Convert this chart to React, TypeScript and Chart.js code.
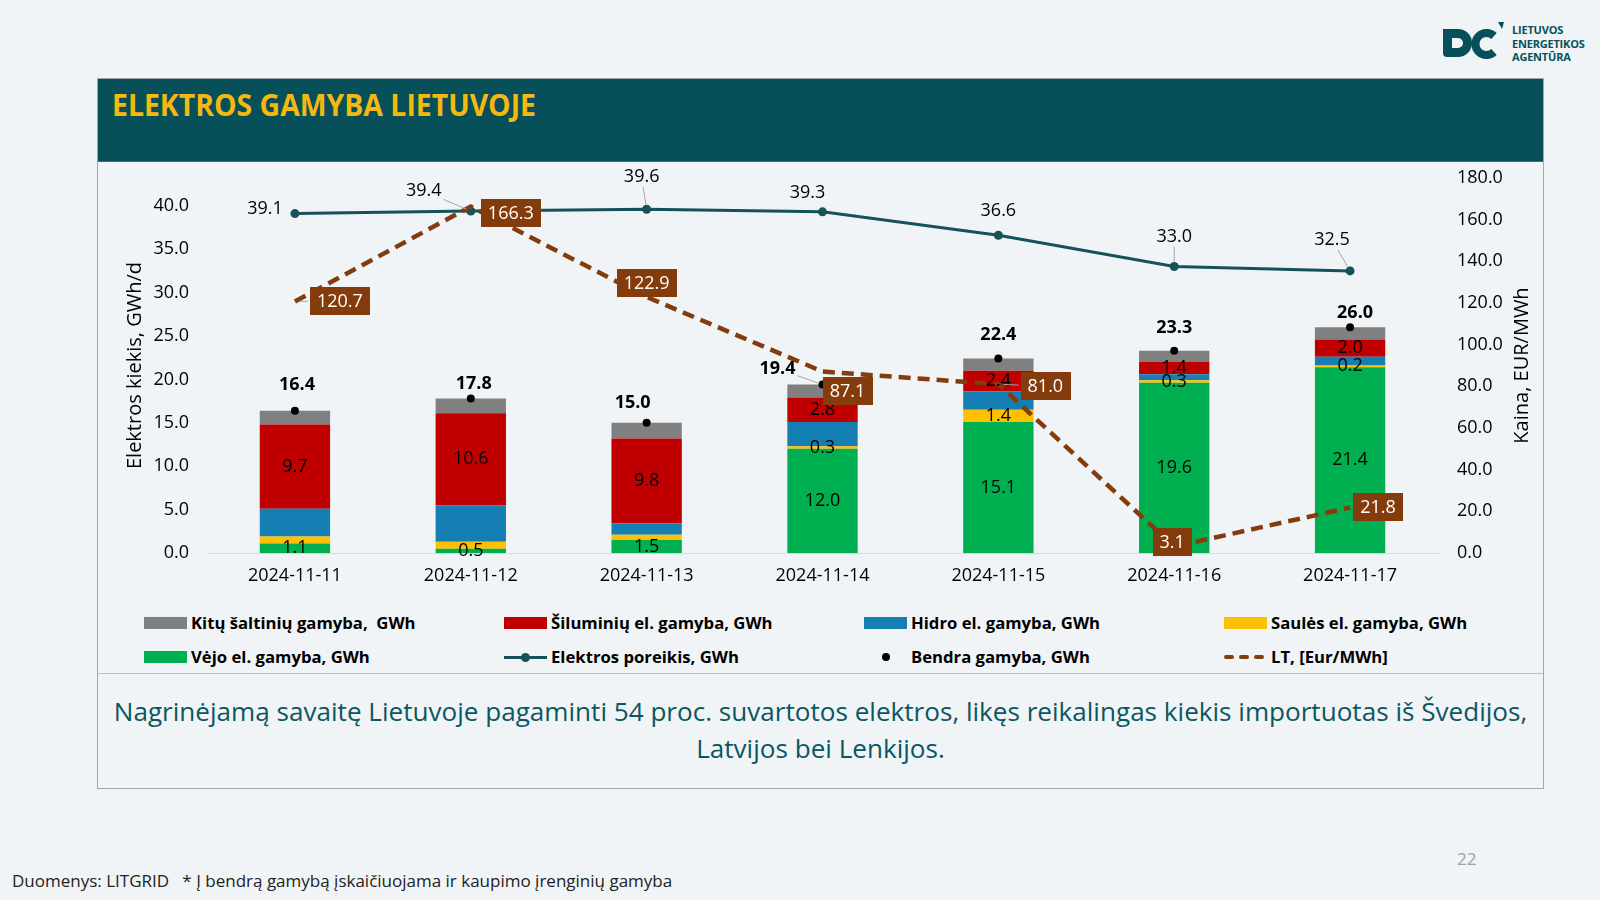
import React, { useEffect, useRef } from "react";
import { Chart, registerables } from "chart.js";

Chart.register(...registerables);

// ---------------- data ----------------
const DATES = ["2024-11-11", "2024-11-12", "2024-11-13", "2024-11-14", "2024-11-15", "2024-11-16", "2024-11-17"];
const WIND = [1.1, 0.5, 1.5, 12.0, 15.1, 19.6, 21.4];
const SOLAR = [0.8, 0.8, 0.6, 0.3, 1.4, 0.3, 0.2];
const HYDRO = [3.2, 4.2, 1.3, 2.8, 2.1, 0.7, 1.0];
const THERMAL = [9.7, 10.6, 9.8, 2.8, 2.4, 1.4, 2.0];
const OTHER = [1.6, 1.7, 1.8, 1.5, 1.4, 1.3, 1.4];
const TOTAL = [16.4, 17.8, 15.0, 19.4, 22.4, 23.3, 26.0];
const DEMAND = [39.1, 39.4, 39.6, 39.3, 36.6, 33.0, 32.5];
const PRICE = [120.7, 166.3, 122.9, 87.1, 81.0, 3.1, 21.8];

const LEFT_MAX = 43.2;
const LEFT_STEP = 5;
const RIGHT_MAX = 180;
const RIGHT_STEP = 20;
const RIGHT_TITLE = "Kaina, EUR/MWh";

// which solar segments carry a value label
const SOLAR_LABELED = [false, false, false, true, true, true, true];

// label placement (pixel offsets from the mark, styling only)
const DEMAND_LABEL_OFFSET = [[-30, -5], [-47, -20], [-5, -32], [-15, -19], [0, -24], [0, -30], [-18, -31]];
const DEMAND_LEADER = [false, true, true, false, false, true, true];
const TOTAL_LABEL_OFFSET = [[2, -26], [3, -15], [-14, -20], [-45, -16], [0, -24], [0, -23], [5, -14]];
const TOTAL_LEADER = [false, false, false, true, false, false, false];
const PRICE_LABEL_OFFSET = [[45, -1], [40, 6], [0, -14], [25, 19], [47, 2], [-2, -5], [28, -1]];
const PRICE_LEADER = [true, false, false, false, true, false, false];

// ---------------- style ----------------
const FONT = '"Open Sans", "Noto Sans", sans-serif';
const BG = "#F0F4F7";
const C_OTHER = "#808080";
const C_THERMAL = "#C00000";
const C_HYDRO = "#157EB2";
const C_SOLAR = "#FFC000";
const C_WIND = "#00B050";
const C_DEMAND = "#17525B";
const C_TOTAL = "#000000";
const C_PRICE = "#843C0C";
const C_TEAL = "#07505A";
const LABEL_SIZE = 18;

function drawLeader(ctx: CanvasRenderingContext2D, cx: number, cy: number, w: number, h: number, px: number, py: number) {
  const dx = px - cx;
  const dy = py - cy;
  const len = Math.hypot(dx, dy);
  if (len < 1) return;
  const tx = dx !== 0 ? (w / 2 + 2) / Math.abs(dx) : Infinity;
  const ty = dy !== 0 ? (h / 2 + 1) / Math.abs(dy) : Infinity;
  const t = Math.min(tx, ty);
  if (t >= 1) return;
  const sx = cx + dx * t;
  const sy = cy + dy * t;
  const ex = px - (dx / len) * 5;
  const ey = py - (dy / len) * 5;
  ctx.beginPath();
  ctx.moveTo(sx, sy);
  ctx.lineTo(ex, ey);
  ctx.stroke();
}

const labelPlugin = {
  id: "customLabels",
  afterDatasetsDraw(chart: any) {
    const ctx: CanvasRenderingContext2D = chart.ctx;
    ctx.save();
    ctx.textAlign = "center";
    ctx.textBaseline = "middle";

    // stacked segment labels
    const segs = [
      { i: 0, show: (_j: number) => true },
      { i: 1, show: (j: number) => SOLAR_LABELED[j] },
      { i: 3, show: (_j: number) => true },
    ];
    ctx.fillStyle = "#000";
    ctx.font = `${LABEL_SIZE}px ${FONT}`;
    for (const s of segs) {
      const meta = chart.getDatasetMeta(s.i);
      meta.data.forEach((el: any, j: number) => {
        if (!s.show(j)) return;
        const p = el.getProps(["x", "y", "base"], true);
        const v = chart.data.datasets[s.i].data[j];
        ctx.fillText(Number(v).toFixed(1), p.x, (p.y + p.base) / 2);
      });
    }

    ctx.strokeStyle = "#A6A6A6";
    ctx.lineWidth = 1;

    // demand labels
    const dMeta = chart.getDatasetMeta(5);
    ctx.font = `${LABEL_SIZE}px ${FONT}`;
    dMeta.data.forEach((el: any, j: number) => {
      const txt = DEMAND[j].toFixed(1);
      const cx = el.x + DEMAND_LABEL_OFFSET[j][0];
      const cy = el.y + DEMAND_LABEL_OFFSET[j][1];
      const w = ctx.measureText(txt).width;
      if (DEMAND_LEADER[j]) drawLeader(ctx, cx, cy, w, 18, el.x, el.y);
      ctx.fillStyle = "#000";
      ctx.fillText(txt, cx, cy);
    });

    // total labels
    const tMeta = chart.getDatasetMeta(6);
    ctx.font = `bold ${LABEL_SIZE}px ${FONT}`;
    tMeta.data.forEach((el: any, j: number) => {
      const txt = TOTAL[j].toFixed(1);
      const cx = el.x + TOTAL_LABEL_OFFSET[j][0];
      const cy = el.y + TOTAL_LABEL_OFFSET[j][1];
      const w = ctx.measureText(txt).width;
      if (TOTAL_LEADER[j]) drawLeader(ctx, cx, cy, w, 18, el.x, el.y);
      ctx.fillStyle = "#000";
      ctx.fillText(txt, cx, cy);
    });

    // price labels (boxes)
    const pMeta = chart.getDatasetMeta(7);
    ctx.font = `${LABEL_SIZE}px ${FONT}`;
    pMeta.data.forEach((el: any, j: number) => {
      const txt = PRICE[j].toFixed(1);
      const cx = el.x + PRICE_LABEL_OFFSET[j][0];
      const cy = el.y + PRICE_LABEL_OFFSET[j][1];
      const w = ctx.measureText(txt).width + 14;
      const h = 28;
      if (PRICE_LEADER[j]) drawLeader(ctx, cx, cy, w, h, el.x, el.y);
      ctx.fillStyle = C_PRICE;
      ctx.fillRect(Math.round(cx - w / 2), Math.round(cy - h / 2), Math.round(w), h);
      ctx.fillStyle = "#FFFFFF";
      ctx.fillText(txt, cx, cy + 1);
    });

    ctx.restore();
  },
  afterDraw(chart: any) {
    // right axis title, reading bottom-to-top like the left one
    const ctx: CanvasRenderingContext2D = chart.ctx;
    const s = chart.scales.y1;
    const area = chart.chartArea;
    ctx.save();
    ctx.font = `20px ${FONT}`;
    ctx.fillStyle = "#000";
    ctx.textAlign = "center";
    ctx.textBaseline = "middle";
    ctx.translate(s.right - 21, (area.top + area.bottom) / 2);
    ctx.rotate(-Math.PI / 2);
    ctx.fillText(RIGHT_TITLE, 0, 0);
    ctx.restore();
  },
};

type LegendItem = { label: string; kind: "box" | "line" | "dot" | "dash"; color: string };

const DATASET_LABELS = [
  "Vėjo el. gamyba, GWh",
  "Saulės el. gamyba, GWh",
  "Hidro el. gamyba, GWh",
  "Šiluminių el. gamyba, GWh",
  "Kitų šaltinių gamyba,  GWh",
  "Elektros poreikis, GWh",
  "Bendra gamyba, GWh",
  "LT, [Eur/MWh]",
];

const LEGEND: LegendItem[] = [
  { label: DATASET_LABELS[4], kind: "box", color: C_OTHER },
  { label: DATASET_LABELS[3], kind: "box", color: C_THERMAL },
  { label: DATASET_LABELS[2], kind: "box", color: C_HYDRO },
  { label: DATASET_LABELS[1], kind: "box", color: C_SOLAR },
  { label: DATASET_LABELS[0], kind: "box", color: C_WIND },
  { label: DATASET_LABELS[5], kind: "line", color: C_DEMAND },
  { label: DATASET_LABELS[6], kind: "dot", color: C_TOTAL },
  { label: DATASET_LABELS[7], kind: "dash", color: C_PRICE },
];

function Swatch({ item }: { item: LegendItem }) {
  const base: React.CSSProperties = { width: 43, height: 12, position: "relative", flex: "none", marginRight: 4 };
  if (item.kind === "box") return <div style={{ ...base, background: item.color }} />;
  if (item.kind === "line")
    return (
      <div style={base}>
        <div style={{ position: "absolute", left: 0, right: 0, top: 5, height: 3, background: item.color }} />
        <div style={{ position: "absolute", left: 17, top: 2, width: 9, height: 9, borderRadius: 5, background: item.color }} />
      </div>
    );
  if (item.kind === "dot")
    return (
      <div style={base}>
        <div style={{ position: "absolute", left: 18, top: 2, width: 8, height: 8, borderRadius: 4, background: item.color }} />
      </div>
    );
  return (
    <div style={base}>
      {[0, 15, 30].map((l) => (
        <div key={l} style={{ position: "absolute", left: l, top: 4, width: 10, height: 4, borderRadius: 2, background: item.color }} />
      ))}
    </div>
  );
}

export default function App() {
  const canvasRef = useRef<HTMLCanvasElement | null>(null);

  useEffect(() => {
    if (!canvasRef.current) return;
    const tickFont = { family: FONT, size: LABEL_SIZE };
    const fitVertical = (width: number) => (s: any) => {
      s.width = width;
      s.paddingTop = 0;
      s.paddingBottom = 0;
    };
    const chart = new Chart(canvasRef.current, {
      type: "bar",
      data: {
        labels: DATES,
        datasets: [
          { type: "bar", label: DATASET_LABELS[0], data: WIND, backgroundColor: C_WIND, stack: "s", order: 5 },
          { type: "bar", label: DATASET_LABELS[1], data: SOLAR, backgroundColor: C_SOLAR, stack: "s", order: 5 },
          { type: "bar", label: DATASET_LABELS[2], data: HYDRO, backgroundColor: C_HYDRO, stack: "s", order: 5 },
          { type: "bar", label: DATASET_LABELS[3], data: THERMAL, backgroundColor: C_THERMAL, stack: "s", order: 5 },
          { type: "bar", label: DATASET_LABELS[4], data: OTHER, backgroundColor: C_OTHER, stack: "s", order: 5 },
          {
            type: "line",
            label: DATASET_LABELS[5],
            data: DEMAND,
            stack: "demand",
            borderColor: C_DEMAND,
            backgroundColor: C_DEMAND,
            borderWidth: 3,
            pointRadius: 4.5,
            pointBorderWidth: 0,
            yAxisID: "y",
            order: 2,
          },
          {
            type: "line",
            label: DATASET_LABELS[6],
            data: TOTAL,
            stack: "total",
            showLine: false,
            backgroundColor: C_TOTAL,
            borderColor: C_TOTAL,
            pointRadius: 4,
            pointBorderWidth: 0,
            yAxisID: "y",
            order: 0,
          },
          {
            type: "line",
            label: DATASET_LABELS[7],
            data: PRICE,
            stack: "price",
            borderColor: C_PRICE,
            backgroundColor: C_PRICE,
            borderWidth: 4.5,
            borderDash: [12, 7],
            pointRadius: 0,
            yAxisID: "y1",
            order: 1,
          },
        ],
      } as any,
      options: {
        responsive: false,
        animation: false,
        layout: { padding: { top: 16, left: 0, right: 0, bottom: 0 } },
        plugins: { legend: { display: false }, tooltip: { enabled: false } },
        datasets: { bar: { categoryPercentage: 1, barPercentage: 0.4 } } as any,
        scales: {
          x: {
            stacked: true,
            grid: { display: false, drawTicks: false },
            border: { display: true, color: "#D9D9D9", width: 1 },
            ticks: { color: "#000", font: tickFont, padding: 12, maxRotation: 0, autoSkip: false },
            afterFit: (s: any) => {
              s.height = 49;
            },
          },
          y: {
            position: "left",
            stacked: true,
            min: 0,
            max: LEFT_MAX,
            grid: { display: false, drawTicks: false },
            border: { display: false },
            ticks: {
              stepSize: LEFT_STEP,
              color: "#000",
              font: tickFont,
              padding: 18,
              callback: (v: any) => Number(v).toFixed(1),
            },
            afterBuildTicks: (s: any) => {
              s.ticks = s.ticks.filter((t: any) => Math.abs(t.value / LEFT_STEP - Math.round(t.value / LEFT_STEP)) < 1e-6);
            },
            title: {
              display: true,
              text: "Elektros kiekis, GWh/d",
              color: "#000",
              font: { family: FONT, size: 20 },
              padding: { top: 25, bottom: 0 },
            },
            afterFit: fitVertical(109),
          },
          y1: {
            position: "right",
            min: 0,
            max: RIGHT_MAX,
            grid: { display: false, drawTicks: false },
            border: { display: false },
            ticks: {
              stepSize: RIGHT_STEP,
              color: "#000",
              font: tickFont,
              padding: 19,
              callback: (v: any) => Number(v).toFixed(1),
            },
            afterFit: fitVertical(105),
          },
        },
      } as any,
      plugins: [labelPlugin],
    });
    return () => chart.destroy();
  }, []);

  return (
    <div
      style={{
        position: "fixed",
        left: 0,
        top: 0,
        width: 1600,
        height: 900,
        background: BG,
        overflow: "hidden",
        fontFamily: FONT,
      }}
    >
      {/* logo */}
      <svg width="66" height="42" style={{ position: "absolute", left: 1440, top: 19 }}>
        <path d="M3 10 H18 A14 14 0 0 1 18 38 H7 Q3 38 3 34 Z M12 19 V29 H18 A5 5 0 0 0 18 19 Z" fill={C_TEAL} fillRule="evenodd" />
        <path d="M54 17 A11 11 0 1 0 54 33" stroke={C_TEAL} strokeWidth="8" fill="none" />
        <path d="M58 3 L64 3 L62 10 Z" fill={C_TEAL} />
      </svg>
      <div
        style={{
          position: "absolute",
          left: 1512,
          top: 23,
          fontSize: 11,
          lineHeight: "13.5px",
          fontWeight: 700,
          color: C_TEAL,
          letterSpacing: "-0.2px",
        }}
      >
        LIETUVOS
        <br />
        ENERGETIKOS
        <br />
        AGENTŪRA
      </div>

      {/* frame */}
      <div
        style={{
          position: "absolute",
          left: 97,
          top: 78,
          width: 1445,
          height: 709,
          border: "1px solid #A6A6A6",
          boxSizing: "content-box",
        }}
      />
      <div style={{ position: "absolute", left: 98, top: 79, width: 1445, height: 83, background: C_TEAL, borderBottom: "1px solid #3E6E74", boxSizing: "border-box" }} />
      <div
        style={{
          position: "absolute",
          left: 112,
          top: 90,
          fontSize: 30,
          lineHeight: "30px",
          fontWeight: 700,
          color: "#F5B80F",
          whiteSpace: "nowrap",
          transform: "scaleX(0.947)",
          transformOrigin: "left center",
        }}
      >
        ELEKTROS GAMYBA LIETUVOJE
      </div>

      {/* chart */}
      <canvas
        ref={canvasRef}
        width={1445}
        height={440}
        style={{ position: "absolute", left: 98, top: 162, width: 1445, height: 440 }}
      />

      {/* legend */}
      {LEGEND.map((item, k) => {
        const col = k % 4;
        const row = Math.floor(k / 4);
        return (
          <div
            key={k}
            style={{
              position: "absolute",
              left: 144 + col * 360,
              top: 611 + row * 34,
              height: 23,
              display: "flex",
              alignItems: "center",
              fontSize: 16.7,
              fontWeight: 700,
              color: "#000",
              whiteSpace: "pre",
            }}
          >
            <Swatch item={item} />
            <span>{item.label}</span>
          </div>
        );
      })}
      <div style={{ position: "absolute", left: 98, top: 673, width: 1445, height: 1, background: "#BFBFBF" }} />

      {/* comment text */}
      <div
        style={{
          position: "absolute",
          left: 98,
          top: 693,
          width: 1445,
          textAlign: "center",
          fontSize: 26.1,
          lineHeight: "37px",
          color: "#0B5761",
        }}
      >
        Nagrinėjamą savaitę Lietuvoje pagaminti 54 proc. suvartotos elektros, likęs reikalingas kiekis importuotas iš Švedijos,
        <br />
        Latvijos bei Lenkijos.
      </div>

      {/* footer */}
      <div style={{ position: "absolute", left: 1457, top: 847, fontSize: 17, color: "#A0A0A0" }}>22</div>
      <div style={{ position: "absolute", left: 12, top: 870, fontSize: 17, lineHeight: "22px", color: "#222", whiteSpace: "pre" }}>
        {"Duomenys: LITGRID   * Į bendrą gamybą įskaičiuojama ir kaupimo įrenginių gamyba"}
      </div>
    </div>
  );
}
